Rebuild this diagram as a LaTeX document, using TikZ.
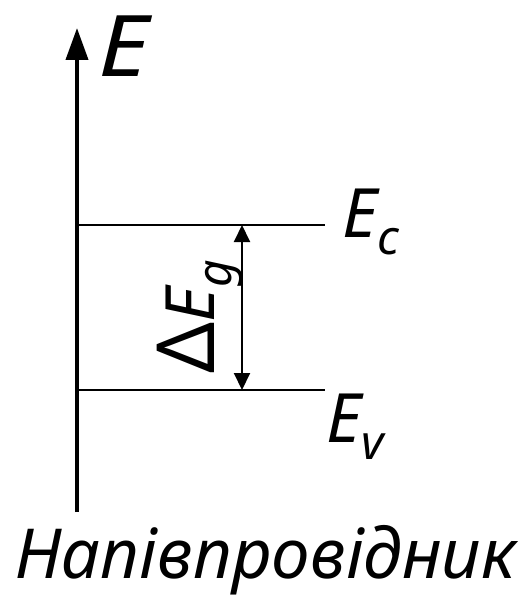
\documentclass[tikz,border=0pt]{standalone}
\usepackage{fontspec}
\setmainfont{Noto Sans}
\usepackage{tikz}
\usetikzlibrary{arrows.meta, positioning}
\definecolor{mydark}{RGB}{0,0,0}
\tikzset{
  axis/.style={-{Triangle[length=32pt, width=22pt]}, line width=4pt, color=mydark},
  level/.style={line width=2.2pt, color=mydark},
  gaparrow/.style={{Triangle[length=17pt, width=16pt]}-{Triangle[length=17pt, width=16pt]},
    line width=2pt, color=mydark},
  lbl/.style={inner sep=0pt, font=\fontsize{68}{70}\selectfont\itshape},
  biglbl/.style={inner sep=0pt, font=\fontsize{85}{88}\selectfont\itshape}
}
\newcommand{\subtxt}[1]{\raisebox{-17pt}{\fontsize{48}{50}\selectfont #1}}

\begin{document}
\begin{tikzpicture}[x=1pt, y=-1pt]
  \useasboundingbox (0,0) rectangle (530,599);

  % Axis
  \coordinate (axbot) at (77,512);
  \coordinate (axtop) at (77,28);
  \draw[axis] (axbot) -- (axtop);
  \node[biglbl, anchor=base west, xscale=1.15] (elabel) at (98,77) {E};

  % Band edges
  \coordinate (ecL) at (77,225);
  \coordinate (ecR) at (325,225);
  \coordinate (evL) at (77,390);
  \coordinate (evR) at (325,390);
  \draw[level] (ecL) -- (ecR);
  \draw[level] (evL) -- (evR);
  \node[lbl, anchor=base west] (eclabel) at (342,237) {E\subtxt{c}};
  \node[lbl, anchor=base west] (evlabel) at (326,442) {E\subtxt{v}};

  % Band gap
  \coordinate (gaptop) at (242,225);
  \coordinate (gapbot) at (242,390);
  \draw[gaparrow] (gaptop) -- (gapbot);
  \node[lbl, anchor=base west, rotate=90] (eglabel) at (214,374)
    {{\upshape\fontsize{80}{80}\selectfont Δ}E\subtxt{g}};

  % Material
  \node[lbl, anchor=base west, font=\fontsize{69}{72}\selectfont\itshape] (matlabel) at (15,578) {Напівпровідник};
\end{tikzpicture}
\end{document}
